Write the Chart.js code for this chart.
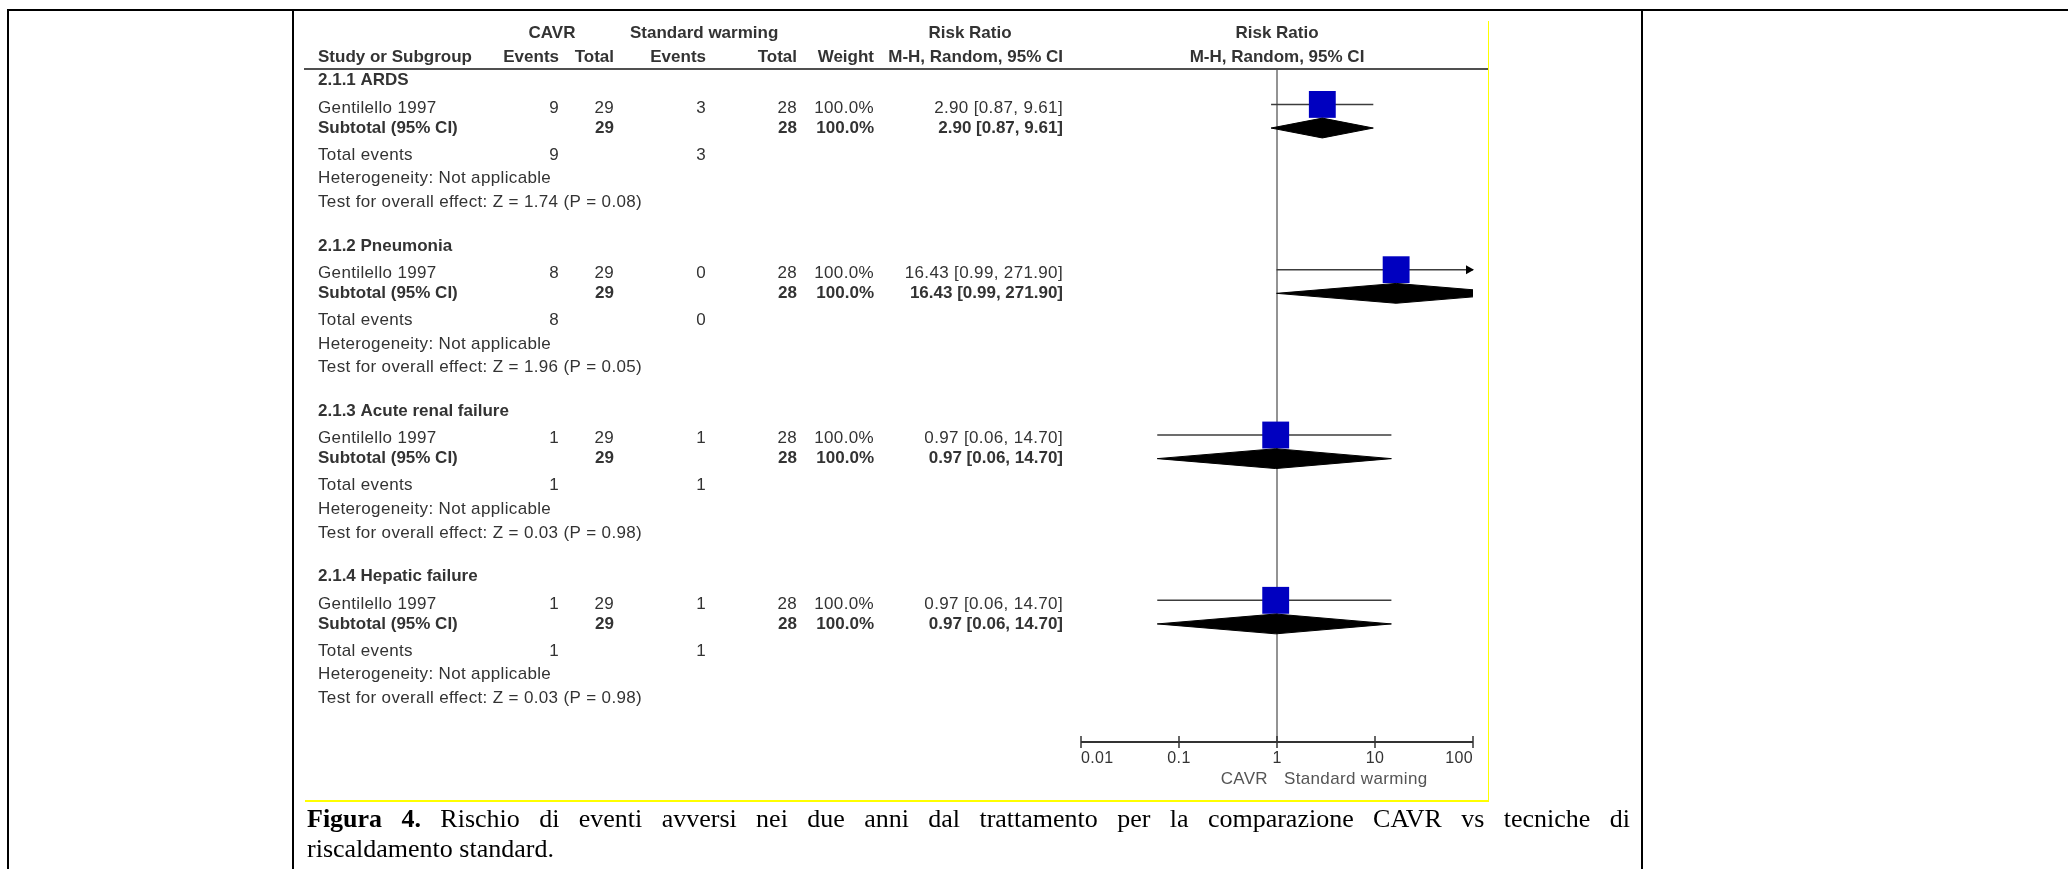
<!DOCTYPE html>
<html>
<head>
<meta charset="utf-8">
<title>Forest plot - CAVR vs Standard warming</title>
<script src="https://cdn.jsdelivr.net/npm/chart.js@4.4.1/dist/chart.umd.min.js"></script>
<style>
  html, body { margin: 0; padding: 0; background: #fff; }
  body { width: 2068px; height: 869px; position: relative; overflow: hidden; }
  .rule { position: absolute; background: #000; }
  .yellow { position: absolute; background: #ffff00; }
  #caption {
    position: absolute; left: 307px; top: 804px; width: 1323px;
    font-family: "Liberation Serif", "DejaVu Serif", serif;
    font-size: 26px; line-height: 30px; color: #000;
  }
  #caption .l1 { text-align: justify; text-align-last: justify; }
  #forest { position: absolute; left: 0; top: 0; }
</style>
</head>
<body>
<div class="rule" style="left:8px; top:9px; width:2060px; height:2px;"></div>
<div class="rule" style="left:7px; top:9px; width:2px; height:860px;"></div>
<div class="rule" style="left:292px; top:9px; width:2px; height:860px;"></div>
<div class="rule" style="left:1641px; top:9px; width:2px; height:860px;"></div>
<div class="yellow" style="left:1488px; top:21px; width:1px; height:781px;"></div>
<div class="yellow" style="left:305px; top:800px; width:1184px; height:2px;"></div>

<canvas id="forest" width="2068" height="869"></canvas>

<div id="caption">
  <div class="l1"><b>Figura 4.</b> Rischio di eventi avversi nei due anni dal trattamento per la comparazione CAVR vs tecniche di</div>
  <div>riscaldamento standard.</div>
</div>

<script>
// subgroups (one study each)
const sections = ["2.1.1 ARDS", "2.1.2 Pneumonia", "2.1.3 Acute renal failure", "2.1.4 Hepatic failure"];
const studyName = "Gentilello 1997";
const cavrEvents = [9, 8, 1, 1];
const cavrTotal = [29, 29, 29, 29];
const stdEvents = [3, 0, 1, 1];
const stdTotal = [28, 28, 28, 28];
const weights = ["100.0%", "100.0%", "100.0%", "100.0%"];
const rr = [2.90, 16.43, 0.97, 0.97];
const ciLow = [0.87, 0.99, 0.06, 0.06];
const ciHigh = [9.61, 271.90, 14.70, 14.70];
const zValues = ["1.74", "1.96", "0.03", "0.03"];
const pValues = ["0.08", "0.05", "0.98", "0.98"];
const tickValues = [0.01, 0.1, 1, 10, 100];
const tickLabels = ["0.01", "0.1", "1", "10", "100"];

// row layout (in y units, one section = 7 rows)
const STEP = 7;
const Y_MAX = 28.5;
const DIAMOND_H = 0.42;
const ROW = { head1: -1.53, head2: -0.51, section: 0.5, studyTxt: 1.65, study: 1.5, subtotal: 2.5, total: 3.65, het: 4.65, test: 5.65 };
const COL = { label: 318, cavrEv: 559, cavrTot: 614, stdEv: 706, stdTot: 797, weight: 874, ci: 1063 };

const fmtCI = (i) => `${rr[i].toFixed(2)} [${ciLow[i].toFixed(2)}, ${ciHigh[i].toFixed(2)}]`;

let datasets = [];

// pooled diamonds (upper edge + lower edge filled to it)
rr.forEach((v, i) => {
  const y = i * STEP + ROW.subtotal;
  datasets.push({
    type: "line",
    data: [{ x: ciLow[i], y: y }, { x: v, y: y - DIAMOND_H }, { x: ciHigh[i], y: y }],
    borderColor: "#000", borderWidth: 1, pointRadius: 0, fill: false, clip: 0,
  });
  datasets.push({
    type: "line",
    data: [{ x: ciLow[i], y: y }, { x: v, y: y + DIAMOND_H }, { x: ciHigh[i], y: y }],
    borderColor: "#000", borderWidth: 1, pointRadius: 0, backgroundColor: "#000", fill: "-1", clip: 0,
  });
});

// study squares
datasets.push({
  type: "scatter",
  data: rr.map((v, i) => ({ x: v, y: i * STEP + ROW.study })),
  pointStyle: "rect",
  pointRadius: 19,
  backgroundColor: "#0000c0",
  borderWidth: 0,
  clip: 0,
});

// confidence interval lines
rr.forEach((v, i) => {
  const y = i * STEP + ROW.study;
  datasets.push({
    type: "line",
    data: [{ x: ciLow[i], y: y }, { x: ciHigh[i], y: y }],
    borderColor: "#3c3c3c", borderWidth: 1.5, pointRadius: 0, fill: false, clip: 0,
  });
});

// line of no effect
datasets.push({
  type: "line",
  data: [{ x: 1, y: 0 }, { x: 1, y: Y_MAX }],
  borderColor: "#707070", borderWidth: 1.5, pointRadius: 0, fill: false, clip: 0,
});

function txt(ctx, s, px, py, align, bold, size, color) {
  ctx.font = (bold ? "bold " : "") + size + 'px "Liberation Sans", Arial, sans-serif';
  ctx.letterSpacing = bold ? "0px" : "0.35px";
  ctx.textAlign = align;
  ctx.textBaseline = "middle";
  ctx.fillStyle = color || "#333";
  ctx.fillText(s, px, py);
}

const forestText = {
  id: "forestText",
  afterDraw(chart) {
    const { ctx, chartArea, scales } = chart;
    const x = scales.x, y = scales.y;
    const x1 = x.getPixelForValue(1);
    ctx.save();

    // column headers
    let py = y.getPixelForValue(ROW.head1);
    txt(ctx, "CAVR", 552, py, "center", true, 17);
    txt(ctx, "Standard warming", 630, py, "left", true, 17);
    txt(ctx, "Risk Ratio", 970, py, "center", true, 17);
    txt(ctx, "Risk Ratio", x1, py, "center", true, 17);
    py = y.getPixelForValue(ROW.head2);
    txt(ctx, "Study or Subgroup", COL.label, py, "left", true, 17);
    txt(ctx, "Events", COL.cavrEv, py, "right", true, 17);
    txt(ctx, "Total", COL.cavrTot, py, "right", true, 17);
    txt(ctx, "Events", COL.stdEv, py, "right", true, 17);
    txt(ctx, "Total", COL.stdTot, py, "right", true, 17);
    txt(ctx, "Weight", COL.weight, py, "right", true, 17);
    txt(ctx, "M-H, Random, 95% CI", COL.ci, py, "right", true, 17);
    txt(ctx, "M-H, Random, 95% CI", x1, py, "center", true, 17);

    // header rule
    ctx.strokeStyle = "#505050";
    ctx.lineWidth = 2;
    ctx.beginPath();
    ctx.moveTo(304, chartArea.top);
    ctx.lineTo(1488, chartArea.top);
    ctx.stroke();

    // table rows
    sections.forEach((name, i) => {
      const base = i * STEP;
      txt(ctx, name, COL.label, y.getPixelForValue(base + ROW.section), "left", true, 17);

      py = y.getPixelForValue(base + ROW.studyTxt);
      txt(ctx, studyName, COL.label, py, "left", false, 17);
      txt(ctx, String(cavrEvents[i]), COL.cavrEv, py, "right", false, 17);
      txt(ctx, String(cavrTotal[i]), COL.cavrTot, py, "right", false, 17);
      txt(ctx, String(stdEvents[i]), COL.stdEv, py, "right", false, 17);
      txt(ctx, String(stdTotal[i]), COL.stdTot, py, "right", false, 17);
      txt(ctx, weights[i], COL.weight, py, "right", false, 17);
      txt(ctx, fmtCI(i), COL.ci, py, "right", false, 17);

      py = y.getPixelForValue(base + ROW.subtotal);
      txt(ctx, "Subtotal (95% CI)", COL.label, py, "left", true, 17);
      txt(ctx, String(cavrTotal[i]), COL.cavrTot, py, "right", true, 17);
      txt(ctx, String(stdTotal[i]), COL.stdTot, py, "right", true, 17);
      txt(ctx, weights[i], COL.weight, py, "right", true, 17);
      txt(ctx, fmtCI(i), COL.ci, py, "right", true, 17);

      py = y.getPixelForValue(base + ROW.total);
      txt(ctx, "Total events", COL.label, py, "left", false, 17);
      txt(ctx, String(cavrEvents[i]), COL.cavrEv, py, "right", false, 17);
      txt(ctx, String(stdEvents[i]), COL.stdEv, py, "right", false, 17);

      txt(ctx, "Heterogeneity: Not applicable", COL.label, y.getPixelForValue(base + ROW.het), "left", false, 17);
      txt(ctx, `Test for overall effect: Z = ${zValues[i]} (P = ${pValues[i]})`, COL.label,
        y.getPixelForValue(base + ROW.test), "left", false, 17);

      // arrow when CI runs past the axis
      if (ciHigh[i] > x.max) {
        const ay = y.getPixelForValue(base + ROW.study);
        const ax = x.getPixelForValue(x.max) + 1;
        ctx.fillStyle = "#000";
        ctx.beginPath();
        ctx.moveTo(ax, ay);
        ctx.lineTo(ax - 8, ay - 4.5);
        ctx.lineTo(ax - 8, ay + 4.5);
        ctx.closePath();
        ctx.fill();
      }
    });

    // log axis
    const ay = chartArea.bottom;
    ctx.strokeStyle = "#333";
    ctx.lineWidth = 2;
    ctx.beginPath();
    ctx.moveTo(x.getPixelForValue(tickValues[0]), ay);
    ctx.lineTo(x.getPixelForValue(tickValues[tickValues.length - 1]), ay);
    ctx.stroke();
    ctx.lineWidth = 1.5;
    tickValues.forEach((t, k) => {
      const tx = x.getPixelForValue(t);
      ctx.beginPath();
      ctx.moveTo(tx, ay - 6);
      ctx.lineTo(tx, ay + 6);
      ctx.stroke();
      const align = k === 0 ? "left" : (k === tickValues.length - 1 ? "right" : "center");
      txt(ctx, tickLabels[k], tx, ay + 17, align, false, 16, "#333");
    });
    txt(ctx, "CAVR", x1 - 9, ay + 37, "right", false, 17, "#555");
    txt(ctx, "Standard warming", x1 + 7, ay + 37, "left", false, 17, "#555");

    ctx.restore();
  },
};

const forest = new Chart(document.getElementById("forest"), {
  type: "line",
  data: { datasets: datasets },
  options: {
    responsive: false,
    animation: false,
    events: [],
    layout: { padding: { left: 1081, right: 595, top: 69, bottom: 127 } },
    scales: {
      x: { type: "logarithmic", min: 0.01, max: 100, display: false },
      y: { type: "linear", min: 0, max: Y_MAX, reverse: true, display: false },
    },
    plugins: {
      legend: { display: false },
      title: { display: false },
      tooltip: { enabled: false },
    },
  },
  plugins: [forestText],
});
</script>
</body>
</html>
